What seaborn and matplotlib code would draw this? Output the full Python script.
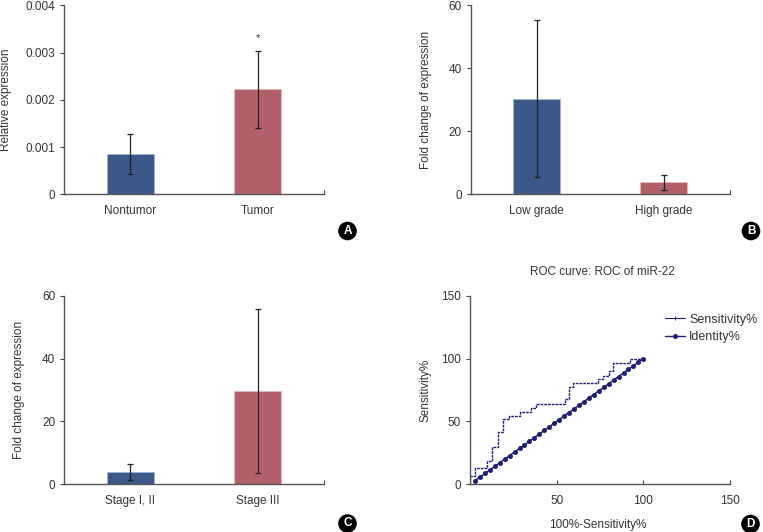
import pandas as pd
import matplotlib
matplotlib.use('Agg')
import matplotlib.pyplot as plt
from matplotlib.lines import Line2D
import seaborn as sns

# --- data ---
# A: relative expression
tissue = ['Nontumor', 'Tumor']
tissue_mean = [0.00085, 0.00222]
tissue_err = [0.00043, 0.00082]
tissue_ticks = ['0', '0.001', '0.002', '0.003', '0.004']

# B: fold change by grade
grade = ['Low grade', 'High grade']
grade_mean = [30.4, 3.8]
grade_err = [24.9, 2.4]

# C: fold change by stage
stage = ['Stage I, II', 'Stage III']
stage_mean = [3.9, 29.8]
stage_err = [2.5, 26.1]

# D: ROC of miR-22 (step corners) and identity line
roc_fpr = [0, 2.9, 9.6, 12.7, 16.0, 19.0, 22.3, 28.8, 35.2, 38.1, 54.8, 57.3,
           59.5, 74.0, 77.0, 80.0, 82.7, 92.5, 100, 100]
roc_sens = [0, 6.6, 12.8, 18.9, 29.5, 41.2, 52.1, 54.5, 57.4, 60.6, 64.1, 67.5,
            77.0, 80.3, 83.5, 86.5, 89.8, 96.5, 99.6, 100]
ident = [2.9, 5.7, 8.6, 11.4, 14.3, 17.1, 20.0, 22.9, 25.7, 28.6, 31.4, 34.3,
         37.1, 40.0, 42.9, 45.7, 48.6, 51.4, 54.3, 57.1, 60.0, 62.9, 65.7, 68.6,
         71.4, 74.3, 77.1, 80.0, 82.9, 85.7, 88.6, 91.4, 94.3, 97.1, 100]

blue = '#2E5596'
red = '#BF5461'
navy = '#1F1F73'
txt = '#333333'

sns.set_theme(style='white')
plt.rcParams['font.family'] = ['Liberation Sans', 'DejaVu Sans']
plt.rcParams['font.size'] = 8.5
plt.rcParams['text.color'] = txt
plt.rcParams['axes.labelcolor'] = txt
plt.rcParams['xtick.color'] = '#444444'
plt.rcParams['ytick.color'] = '#444444'

fig = plt.figure(figsize=(7.63, 5.32), dpi=100)
W, H = 763, 532


def add_ax(l, t, r, b):
    return fig.add_axes([l / W, 1 - b / H, (r - l) / W, (b - t) / H])


def style(ax):
    sns.despine(ax=ax)
    for s in ['left', 'bottom']:
        ax.spines[s].set_color('#555555')
        ax.spines[s].set_linewidth(1.0)
    ax.tick_params(axis='y', direction='out', length=3, width=0.8, pad=3.5,
                   labelsize=8.5, labelcolor=txt, left=True)
    ax.tick_params(axis='x', labelsize=8.5, labelcolor=txt)


def bar_panel(ax, cats, vals, errs, ylim, yticks, ylabel, lab_x, yticklabels=None):
    df = pd.DataFrame({'cat': cats, 'val': vals})
    sns.barplot(data=df, x='cat', y='val', hue='cat', palette=[blue, red],
                width=0.37, legend=False, ax=ax, edgecolor='#9fb4d8', linewidth=0.6)
    ax.patches[1].set_edgecolor('#e8b8bd')
    ax.errorbar(range(len(cats)), vals, yerr=errs, fmt='none', ecolor='#222222',
                elinewidth=0.9, capsize=2.2, capthick=0.9)
    ax.set_xlim(-0.52, 1.52)
    ax.set_ylim(*ylim)
    ax.set_yticks(yticks)
    if yticklabels is not None:
        ax.set_yticklabels(yticklabels)
    style(ax)
    ax.tick_params(axis='x', which='major', length=0, pad=8)
    ax.set_xticks([1.52], minor=True)
    ax.tick_params(axis='x', which='minor', direction='in', length=3, width=0.8,
                   bottom=True)
    ax.set_xlabel('')
    ax.set_ylabel(ylabel, fontsize=8.5)
    ax.yaxis.set_label_coords(lab_x, 0.5)


axA = add_ax(64.3, 5.3, 324, 194.3)
bar_panel(axA, tissue, tissue_mean, tissue_err, (0, 0.004),
          [0, 0.001, 0.002, 0.003, 0.004], 'Relative expression', -0.20,
          tissue_ticks)
axA.text(1, 0.00331, '*', ha='center', va='center', fontsize=8, color=txt)

axB = add_ax(470.7, 5.3, 730, 194.3)
bar_panel(axB, grade, grade_mean, grade_err, (0, 60), [0, 20, 40, 60],
          'Fold change of expression', -0.15)

axC = add_ax(64.3, 295.7, 324, 484.3)
bar_panel(axC, stage, stage_mean, stage_err, (0, 60), [0, 20, 40, 60],
          'Fold change of expression', -0.15)

# D: ROC curve
axD = add_ax(470, 295.7, 730, 484.3)
sns.lineplot(x=roc_fpr, y=roc_sens, ax=axD, color=navy, linewidth=1.0,
             drawstyle='steps-pre', estimator=None, sort=False,
             linestyle=(0, (2.0, 0.7)))
sns.lineplot(x=ident, y=ident, ax=axD, color=navy, linewidth=1.1,
             marker='o', markersize=3.6, markeredgewidth=0, estimator=None,
             sort=False)
axD.set_xlim(0, 150)
axD.set_ylim(0, 150)
axD.set_xticks([50, 100, 150])
axD.set_yticks([0, 50, 100, 150])
style(axD)
axD.tick_params(axis='x', direction='in', length=3, width=0.8, pad=8, bottom=True)
axD.set_ylabel('Sensitivity%', fontsize=8.5)
axD.yaxis.set_label_coords(-0.15, 0.5)
axD.set_xlabel('100%-Sensitivity%', fontsize=8.5)
axD.xaxis.set_label_coords(0.49, -0.184)
axD.text(0.51, 1.124, 'ROC curve: ROC of miR-22', transform=axD.transAxes,
         ha='center', va='center', fontsize=8.5)
handles = [
    Line2D([], [], color=navy, lw=0.8, marker='+', markersize=3, markeredgewidth=0.7),
    Line2D([], [], color=navy, lw=1.0, marker='o', markersize=3.6, markeredgewidth=0),
]
axD.legend(handles, ['Sensitivity%', 'Identity%'], loc='upper left',
           bbox_to_anchor=(0.75, 0.905), frameon=False, fontsize=9,
           handlelength=1.6, handletextpad=0.35, labelspacing=0.45,
           borderaxespad=0, borderpad=0)

# circled panel letters
for letter, px, py in [('A', 347.5, 231), ('B', 751, 231), ('C', 347.5, 523.5), ('D', 750.5, 524)]:
    fig.text(px / W, 1 - py / H, letter, ha='center', va='center', color='white',
             fontsize=8.5, fontweight='bold',
             bbox=dict(boxstyle='circle,pad=0.28', fc='black', ec='none'))

fig.savefig('out.png', dpi=100)
